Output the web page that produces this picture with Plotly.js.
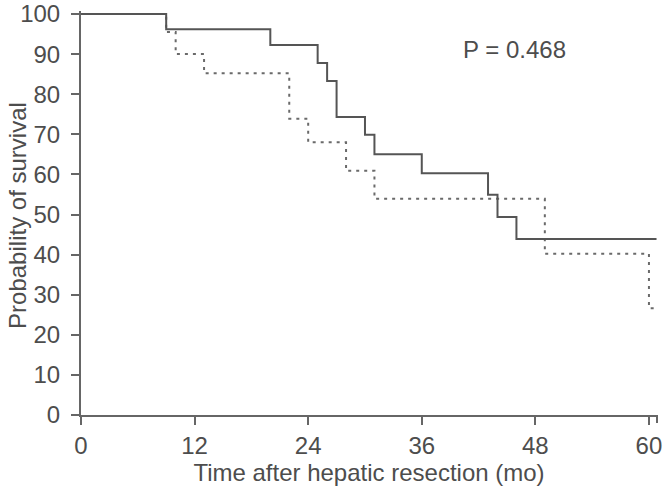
<!DOCTYPE html>
<html>
<head>
<meta charset="utf-8">
<script src="https://cdn.plot.ly/plotly-3.0.1.min.js"></script>
<style>
  html, body { margin: 0; padding: 0; background: #ffffff; }
  #chart { width: 671px; height: 493px; }
</style>
</head>
<body>
<div id="chart"></div>
<script>
// Kaplan-Meier survival estimates (months after resection, % surviving)
const solidTime = [0, 9, 20, 25, 26, 27, 30, 31, 36, 43, 44, 46, 60.8];
const solidSurv = [100, 96.2, 92.3, 87.8, 83.3, 74.3, 69.9, 65.0, 60.3, 54.9, 49.4, 43.9, 43.9];

const dottedTime = [0, 9, 10, 13, 22, 24, 28, 31, 49, 60, 60.7];
const dottedSurv = [100, 95.5, 90.0, 85.2, 73.9, 68.0, 60.9, 53.9, 40.2, 26.6, 26.6];

const xTicks = [0, 12, 24, 36, 48, 60];
const yTicks = [0, 10, 20, 30, 40, 50, 60, 70, 80, 90, 100];

const pValueText = 'P = 0.468';
const xTitle = 'Time after hepatic resection (mo)';
const yTitle = 'Probability of survival';

const FONT = 'Liberation Sans, Arial, Helvetica, sans-serif';
const TEXT_COLOR = '#4d4d4d';
const AXIS_COLOR = '#666666';

const MARGIN = { l: 81, r: 14, t: 11, b: 78, pad: 0 };
const PLOT_H = 493 - MARGIN.t - MARGIN.b;
const PLOT_W = 671 - MARGIN.l - MARGIN.r;

const traces = [
  {
    x: dottedTime, y: dottedSurv,
    type: 'scatter', mode: 'lines',
    line: { shape: 'hv', color: '#6a6a6a', width: 2, dash: '3px,5px' },
    hoverinfo: 'skip', showlegend: false
  },
  {
    x: solidTime, y: solidSurv,
    type: 'scatter', mode: 'lines',
    line: { shape: 'hv', color: '#555555', width: 2 },
    hoverinfo: 'skip', showlegend: false
  }
];

const axisCommon = {
  showgrid: false, zeroline: false,
  showline: true, linecolor: AXIS_COLOR, linewidth: 2,
  ticks: 'outside', ticklen: 8, tickwidth: 2, tickcolor: AXIS_COLOR,
  tickfont: { family: FONT, size: 24, color: TEXT_COLOR },
  ticklabeloverflow: 'allow',
  fixedrange: true
};

const layout = {
  width: 671, height: 493,
  margin: MARGIN,
  paper_bgcolor: '#ffffff', plot_bgcolor: '#ffffff',
  font: { family: FONT, color: TEXT_COLOR },
  xaxis: Object.assign({}, axisCommon, {
    range: [0, 60.85],
    tickmode: 'array', tickvals: xTicks, ticktext: xTicks.map(String),
    ticklabelstandoff: 0,
    title: { text: xTitle, font: { family: FONT, size: 24, color: TEXT_COLOR }, standoff: 5 }
  }),
  yaxis: Object.assign({}, axisCommon, {
    range: [0, 100.75],
    tickmode: 'array', tickvals: yTicks, ticktext: yTicks.map(String),
    ticklabelstandoff: 6
  }),
  annotations: [
    {
      text: pValueText, xref: 'paper', yref: 'paper',
      x: 0.753, y: 0.905, xanchor: 'center', yanchor: 'middle',
      showarrow: false,
      font: { family: FONT, size: 24, color: TEXT_COLOR }
    },
    {
      // rotated axis title, kept just inside the left edge
      text: yTitle, xref: 'paper', yref: 'paper',
      x: -79 / PLOT_W, y: 0.494, xanchor: 'left', yanchor: 'middle',
      textangle: -90, showarrow: false,
      font: { family: FONT, size: 24, color: TEXT_COLOR }
    }
  ],
  shapes: [
    // short end cap at the right end of the time axis
    {
      type: 'line', xref: 'paper', yref: 'paper',
      x0: 1, x1: 1, y0: 0, y1: -8 / PLOT_H,
      line: { color: AXIS_COLOR, width: 2 }
    }
  ]
};

Plotly.newPlot('chart', traces, layout, { displayModeBar: false, staticPlot: true });
</script>
</body>
</html>
